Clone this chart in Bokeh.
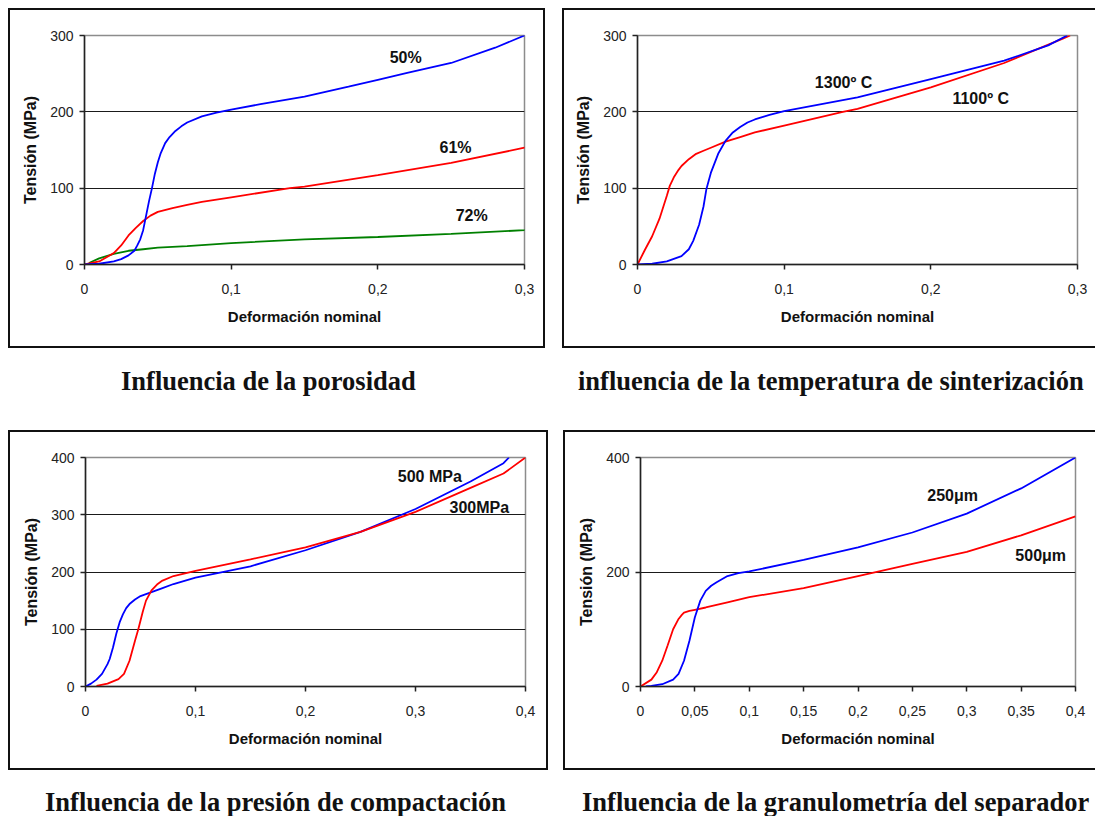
from bokeh.plotting import figure
from bokeh.models import Range1d, FixedTicker, Div, Spacer
from bokeh.layouts import column, row
from bokeh.embed import file_html
from bokeh.resources import INLINE
from bokeh.core.properties import value

# ---------------- Panel 1: Influencia de la porosidad ----------------
p1_xticks = [0, 0.1, 0.2, 0.3]
p1_xlabels = ["0", "0,1", "0,2", "0,3"]
p1_yticks = [0, 100, 200, 300]
p1_50_x = [0, 0.01, 0.02, 0.025, 0.03, 0.034, 0.036, 0.038, 0.04, 0.042, 0.044, 0.046, 0.048, 0.05,
           0.052, 0.055, 0.058, 0.062, 0.066, 0.07, 0.08, 0.09, 0.1, 0.12, 0.15, 0.18, 0.2, 0.22,
           0.25, 0.28, 0.3, 0.302]
p1_50_y = [0, 1, 4, 7, 12, 18, 25, 33, 45, 64, 83, 100, 119, 134,
           146, 159, 167, 175, 181, 186, 194, 199, 203, 210, 220, 233, 242, 251,
           264, 284, 300, 305]
p1_61_x = [0, 0.01, 0.02, 0.025, 0.03, 0.035, 0.04, 0.045, 0.05, 0.06, 0.07, 0.08, 0.1, 0.14, 0.15,
           0.2, 0.25, 0.3, 0.302]
p1_61_y = [0, 4, 15, 25, 38, 48, 57, 64, 69, 74, 78, 82, 88, 100, 102,
           117, 133, 153, 155]
p1_72_x = [0.003, 0.01, 0.02, 0.03, 0.04, 0.05, 0.07, 0.1, 0.15, 0.2, 0.25, 0.3, 0.302]
p1_72_y = [2, 8, 14, 18, 20, 22, 24, 28, 33, 36, 40, 45, 46]
p1_labels = ["50%", "61%", "72%"]
p1_label_x = [0.219, 0.253, 0.264]
p1_label_y = [271, 153, 64]

# ---------------- Panel 2: temperatura de sinterización ----------------
p2_xticks = [0, 0.1, 0.2, 0.3]
p2_xlabels = ["0", "0,1", "0,2", "0,3"]
p2_yticks = [0, 100, 200, 300]
p2_1100_x = [0, 0.005, 0.01, 0.015, 0.02, 0.022, 0.025, 0.028, 0.03, 0.035, 0.04, 0.045, 0.05,
             0.06, 0.07, 0.08, 0.1, 0.14, 0.15, 0.2, 0.25, 0.29, 0.295]
p2_1100_y = [0, 19, 37, 60, 90, 103, 115, 124, 129, 138, 145, 149, 153,
             161, 167, 173, 182, 200, 204, 232, 264, 296, 300]
p2_1300_x = [0, 0.01, 0.02, 0.03, 0.035, 0.038, 0.042, 0.045, 0.047, 0.05, 0.055, 0.06, 0.065,
             0.07, 0.075, 0.08, 0.085, 0.09, 0.1, 0.15, 0.2, 0.25, 0.28, 0.293]
p2_1300_y = [0, 1, 4, 11, 20, 31, 52, 76, 99, 120, 145, 162, 173,
             180, 186, 190, 193, 196, 201, 219, 243, 267, 287, 300]
p2_labels = ["1300º C", "1100º C"]
p2_label_x = [0.1405, 0.234]
p2_label_y = [238, 218]

# ---------------- Panel 3: presión de compactación ----------------
p3_xticks = [0, 0.1, 0.2, 0.3, 0.4]
p3_xlabels = ["0", "0,1", "0,2", "0,3", "0,4"]
p3_yticks = [0, 100, 200, 300, 400]
p3_500_x = [0, 0.005, 0.01, 0.015, 0.02, 0.022, 0.025, 0.028, 0.031, 0.034, 0.037, 0.04, 0.045,
            0.05, 0.06, 0.07, 0.08, 0.1, 0.15, 0.2, 0.25, 0.3, 0.35, 0.38, 0.385]
p3_500_y = [0, 5, 12, 22, 39, 48, 68, 92, 112, 126, 137, 144, 152,
            158, 165, 172, 179, 190, 210, 238, 270, 310, 358, 390, 400]
p3_300_x = [0.01, 0.02, 0.03, 0.035, 0.04, 0.045, 0.048, 0.052, 0.055, 0.06, 0.065, 0.07, 0.08,
            0.1, 0.15, 0.2, 0.25, 0.3, 0.35, 0.38, 0.4]
p3_300_y = [1, 5, 13, 22, 45, 80, 100, 130, 150, 168, 178, 185, 193,
            202, 222, 243, 270, 305, 347, 372, 400]
p3_labels = ["500 MPa", "300MPa"]
p3_label_x = [0.313, 0.358]
p3_label_y = [366, 312]

# ---------------- Panel 4: granulometría del separador ----------------
p4_xticks = [0, 0.05, 0.1, 0.15, 0.2, 0.25, 0.3, 0.35, 0.4]
p4_xlabels = ["0", "0,05", "0,1", "0,15", "0,2", "0,25", "0,3", "0,35", "0,4"]
p4_yticks = [0, 200, 400]
p4_250_x = [0.005, 0.01, 0.02, 0.03, 0.035, 0.04, 0.045, 0.05, 0.055, 0.06, 0.065, 0.07, 0.08,
            0.09, 0.1, 0.15, 0.2, 0.25, 0.3, 0.35, 0.4]
p4_250_y = [0, 1, 4, 12, 22, 45, 80, 121, 150, 167, 176, 182, 193,
            198, 201, 221, 243, 269, 302, 346, 400]
p4_500_x = [0, 0.01, 0.015, 0.02, 0.025, 0.03, 0.035, 0.038, 0.04, 0.045, 0.05, 0.06, 0.08, 0.1,
            0.15, 0.2, 0.25, 0.3, 0.35, 0.4]
p4_500_y = [0, 12, 25, 45, 72, 100, 118, 125, 129, 132, 134, 138, 147, 156,
            172, 193, 214, 235, 264, 297]
p4_labels = ["250μm", "500μm"]
p4_label_x = [0.287, 0.368]
p4_label_y = [334, 228]

captions = ["Influencia de la porosidad",
            "influencia de la temperatura de sinterización",
            "Influencia de la presión de compactación",
            "Influencia de la granulometría del separador"]

BLUE = "#0000FF"
RED = "#FF0000"
GREEN = "#008000"
SANS = "Liberation Sans"


def make_panel(width, height, xmax, ymax, xticks, xlabels, yticks, series, labels, lx, ly,
               left, right, top, bottom, border_right=True):
    border = "2px solid #111111"
    styles = {"border-left": border, "border-top": border, "border-bottom": border}
    if border_right:
        styles["border-right"] = border
    p = figure(width=width, height=height, output_backend="svg", toolbar_location=None,
               x_range=Range1d(0, xmax), y_range=Range1d(0, ymax),
               min_border_left=left, min_border_right=right,
               min_border_top=top, min_border_bottom=bottom,
               background_fill_color="white", border_fill_color="white",
               outline_line_color="#8c8c8c", outline_line_width=1.5,
               styles=styles)
    p.xaxis.ticker = FixedTicker(ticks=xticks)
    p.xaxis.major_label_overrides = dict(zip(xticks, xlabels))
    p.yaxis.ticker = FixedTicker(ticks=yticks)
    p.xgrid.visible = False
    p.ygrid.grid_line_color = "#1a1a1a"
    p.ygrid.grid_line_width = 1
    for ax in (p.xaxis[0], p.yaxis[0]):
        ax.axis_line_color = "#222222"
        ax.axis_line_width = 1.5
        ax.major_tick_line_color = "#222222"
        ax.major_tick_line_width = 1.5
        ax.major_tick_in = 0
        ax.major_tick_out = 5
        ax.minor_tick_line_color = None
        ax.major_label_text_font = SANS
        ax.major_label_text_font_size = "14px"
        ax.major_label_text_color = "#222222"
        ax.axis_label_text_font = SANS
        ax.axis_label_text_font_style = "bold"
        ax.axis_label_text_color = "#111111"
    p.xaxis.axis_label = "Deformación nominal"
    p.yaxis.axis_label = "Tensión (MPa)"
    p.xaxis.axis_label_text_font_size = "15px"
    p.yaxis.axis_label_text_font_size = "16px"
    p.xaxis.major_label_standoff = 14
    p.xaxis.axis_label_standoff = 11
    p.yaxis.major_label_standoff = 6
    p.yaxis.axis_label_standoff = 8
    for xs, ys, color in series:
        p.line(xs, ys, line_color=color, line_width=1.8)
    p.text(x=lx, y=ly, text=labels, text_font=value(SANS), text_font_style="bold",
           text_font_size="16px", text_color="#111111", text_align="center",
           text_baseline="middle")
    return p


# host sizes include the 2px CSS border; canvas starts inside the border
# box 1: x 8..545, y 8..348 ; frame x 84..524, y 35..264
p1 = make_panel(537, 340, 0.3, 300, p1_xticks, p1_xlabels, p1_yticks,
                [(p1_72_x, p1_72_y, GREEN), (p1_61_x, p1_61_y, RED), (p1_50_x, p1_50_y, BLUE)],
                p1_labels, p1_label_x, p1_label_y, 74, 23, 25, 86)
# box 2: x 562..1095 ; frame x 637..1077
p2 = make_panel(533, 340, 0.3, 300, p2_xticks, p2_xlabels, p2_yticks,
                [(p2_1100_x, p2_1100_y, RED), (p2_1300_x, p2_1300_y, BLUE)],
                p2_labels, p2_label_x, p2_label_y, 73, 20, 25, 86, border_right=False)
# box 3: x 8..548, y 430..770 ; frame x 85..525
p3 = make_panel(540, 340, 0.4, 400, p3_xticks, p3_xlabels, p3_yticks,
                [(p3_500_x, p3_500_y, BLUE), (p3_300_x, p3_300_y, RED)],
                p3_labels, p3_label_x, p3_label_y, 75, 25, 25, 86)
# box 4: x 563..1095 ; frame x 640..1075
p4 = make_panel(532, 340, 0.4, 400, p4_xticks, p4_xlabels, p4_yticks,
                [(p4_500_x, p4_500_y, RED), (p4_250_x, p4_250_y, BLUE)],
                p4_labels, p4_label_x, p4_label_y, 75, 22, 25, 86, border_right=False)


def caption_div(height, items):
    spans = ""
    for left, top, txt in items:
        spans += ('<span style="position:absolute;left:%dpx;top:%dpx;white-space:nowrap;'
                  'font-family:\'Liberation Serif\',\'Times New Roman\',serif;font-weight:bold;'
                  'font-size:26.5px;line-height:26px;color:#111;">%s</span>' % (left, top, txt))
    html = ('<div style="position:relative;width:1095px;height:%dpx;overflow:hidden;">%s</div>'
            % (height, spans))
    return Div(text=html, width=1095, height=height, margin=0)


cap1 = caption_div(82, [(121, 20, captions[0]), (578, 20, captions[1])])
cap2 = caption_div(46, [(45, 19, captions[2]), (582, 19, captions[3])])

layout = column(
    Spacer(width=1095, height=8, margin=0),
    row(Spacer(width=8, height=340, margin=0), p1, Spacer(width=17, height=340, margin=0), p2),
    cap1,
    row(Spacer(width=8, height=340, margin=0), p3, Spacer(width=15, height=340, margin=0), p4),
    cap2,
)

open("out.html", "w").write(file_html(layout, INLINE))
